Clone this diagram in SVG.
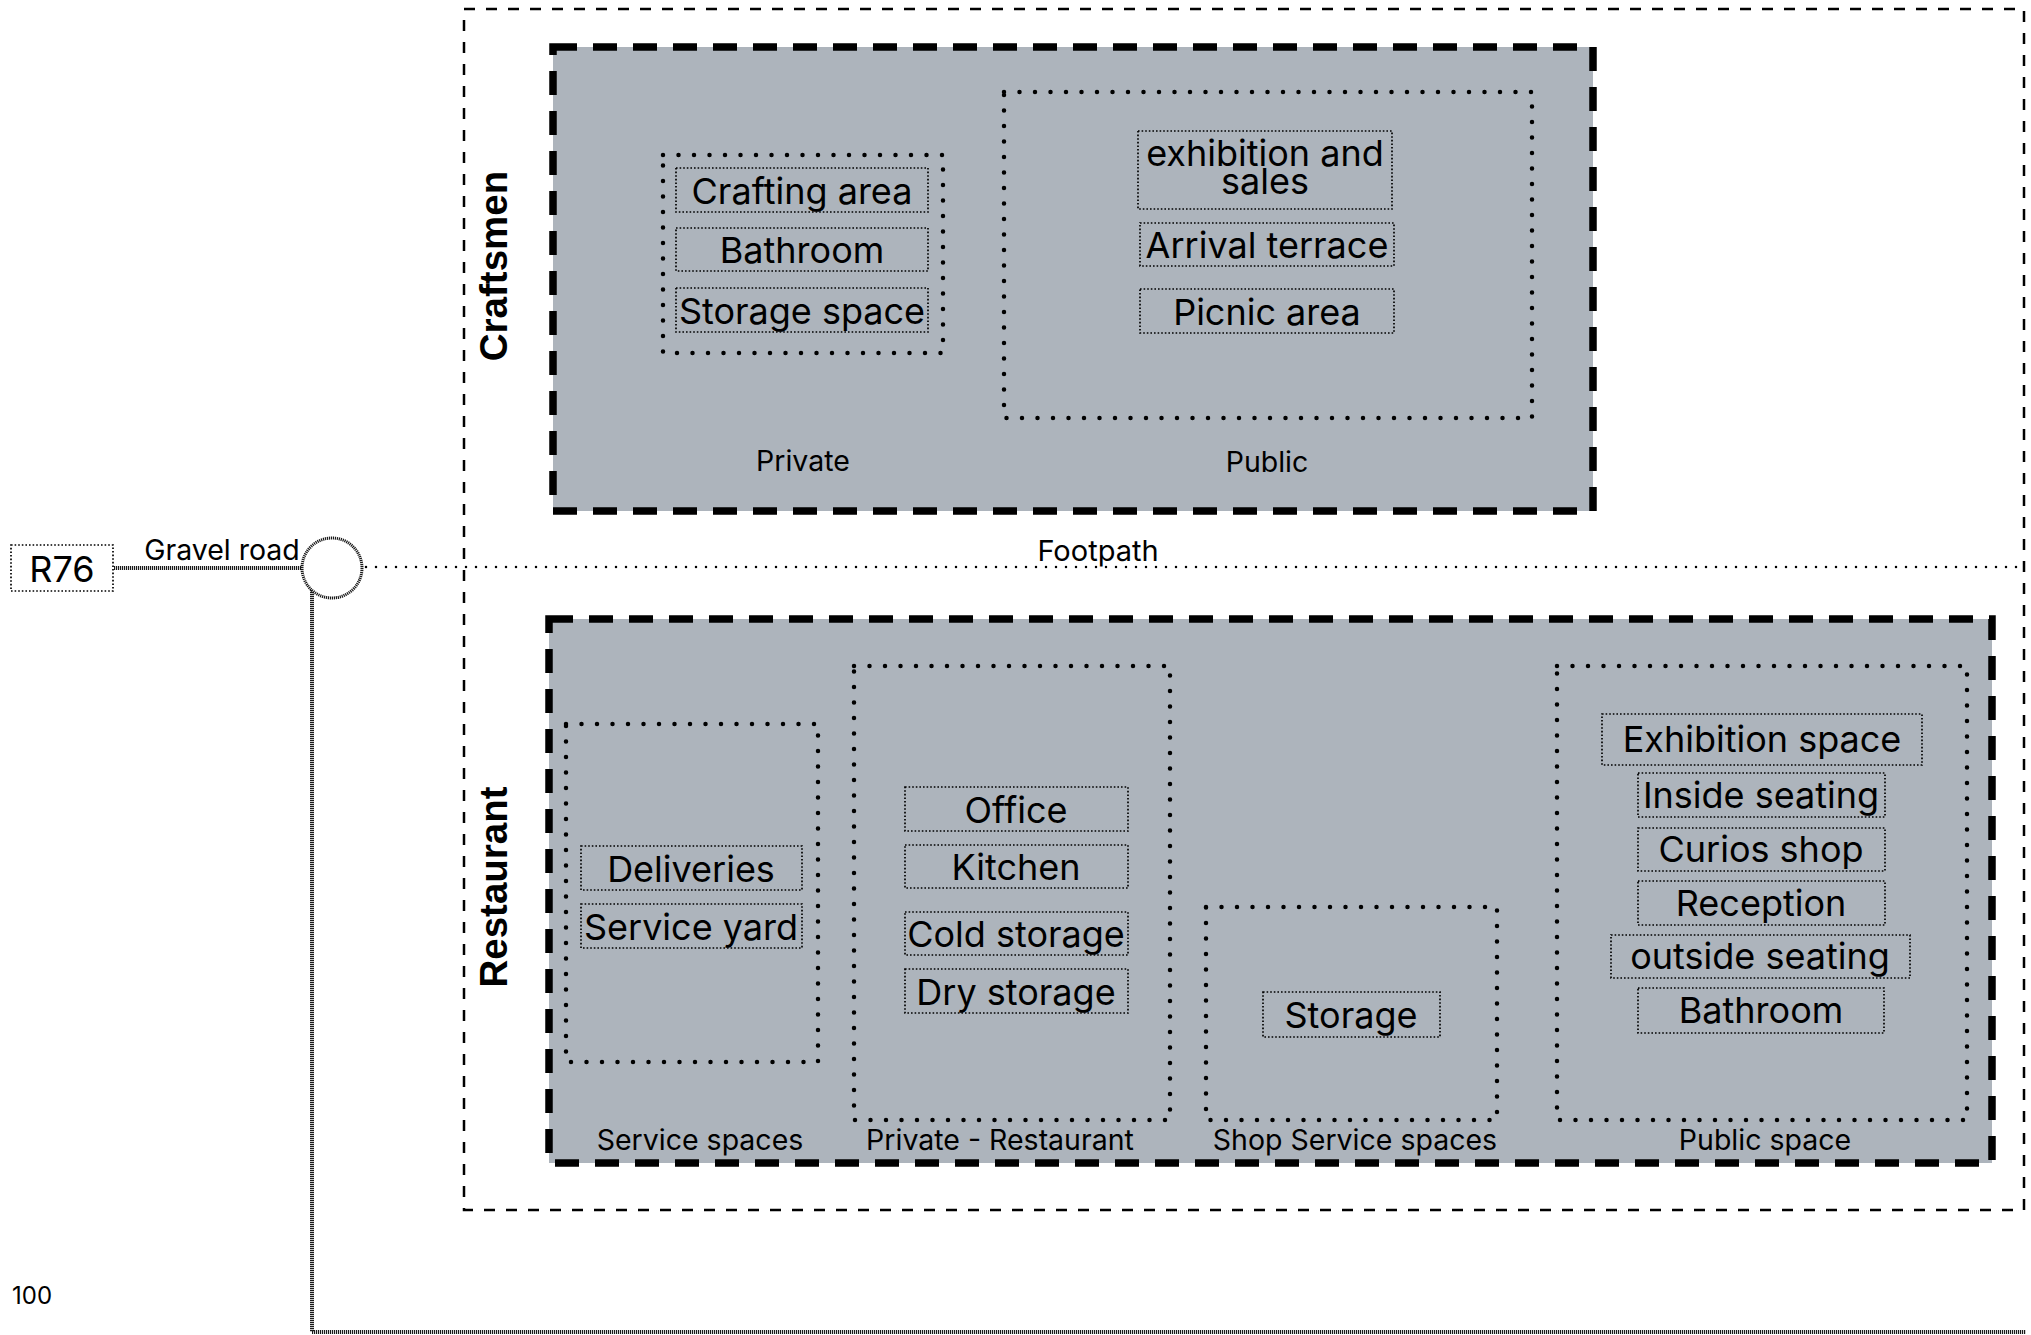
<svg xmlns="http://www.w3.org/2000/svg" width="2031" height="1335" viewBox="0 0 2031 1335">
<style>
  .t{font-family:Inter,"Noto Sans",sans-serif;fill:#000;}
  .item{font-size:36px;text-anchor:middle;}
  .lab{font-size:28.5px;text-anchor:middle;}
  .big{font-family:"Liberation Sans",Arial,sans-serif;font-weight:bold;font-size:38.5px;text-anchor:middle;fill:#000;}
  .zone{fill:#adb4bc;stroke:#000;stroke-width:7.5;stroke-dasharray:24 16;}
  .grp{fill:none;stroke:#000;stroke-width:4.5;stroke-linecap:round;stroke-dasharray:0 15.5;}
  .box{fill:none;stroke:#000;stroke-width:1.7;stroke-dasharray:1.6 2;}
  .road{fill:none;stroke:#1a1a1a;stroke-width:4;stroke-dasharray:1.2 0.8;}
  .foot{fill:none;stroke:#000;stroke-width:2.5;stroke-linecap:round;stroke-dasharray:0 10;}
</style>
<rect width="2031" height="1335" fill="#fff"/>

<g id="site">
  <rect x="464" y="9" width="1560" height="1201" fill="none" stroke="#000" stroke-width="2.5" stroke-dasharray="11 11"/>
</g>

<g id="connectors">
  <line class="road" x1="114" y1="568" x2="302" y2="568"/>
  <path class="road" d="M312 590 V1332 H2026"/>
  <line class="foot" x1="366" y1="567" x2="2025" y2="567"/>
</g>

<g id="r76">
  <rect class="box" x="11" y="545" width="102" height="46" stroke-width="2.2" stroke-dasharray="2 3"/>
  <text class="t" x="62" y="582" font-size="36" text-anchor="middle">R76</text>
</g>
<g id="gravel-road-label"><text class="t" x="222" y="560" font-size="28.5" text-anchor="middle">Gravel road</text></g>
<g id="junction"><circle cx="332" cy="568" r="30" fill="#fff" stroke="#1a1a1a" stroke-width="3" stroke-dasharray="1.2 0.8"/></g>
<g id="footpath-label"><text class="t" x="1098" y="561" font-size="29" text-anchor="middle">Footpath</text></g>
<g id="scale"><text class="t" x="12" y="1304" font-size="24">100</text></g>

<g id="craftsmen">
  <rect class="zone" x="553" y="47" width="1040" height="464"/>
  <text class="big" transform="translate(507,266) rotate(-90)">Craftsmen</text>
  <g id="craftsmen-private">
    <rect class="grp" x="663" y="155" width="280" height="198"/>
    <text class="t lab" x="803" y="471">Private</text>
    <g id="crafting-area"><rect class="box" x="676" y="168" width="252" height="44"/><text class="t item" x="802" y="204">Crafting area</text></g>
    <g id="craft-bathroom"><rect class="box" x="676" y="228" width="252" height="43"/><text class="t item" x="802" y="263">Bathroom</text></g>
    <g id="storage-space"><rect class="box" x="676" y="288" width="252" height="44"/><text class="t item" x="802" y="324">Storage space</text></g>
  </g>
  <g id="craftsmen-public">
    <rect class="grp" x="1004" y="92" width="528" height="326"/>
    <text class="t lab" x="1267" y="472">Public</text>
    <g id="exhibition-sales"><rect class="box" x="1138" y="131" width="254" height="78"/><text class="t item" x="1265" y="166">exhibition and</text><text class="t item" x="1265" y="194">sales</text></g>
    <g id="arrival-terrace"><rect class="box" x="1140" y="223" width="254" height="43"/><text class="t item" x="1267" y="258">Arrival terrace</text></g>
    <g id="picnic-area"><rect class="box" x="1140" y="289" width="254" height="44"/><text class="t item" x="1267" y="325">Picnic area</text></g>
  </g>
</g>

<g id="restaurant">
  <rect class="zone" x="549" y="619" width="1443" height="544"/>
  <text class="big" transform="translate(507,887) rotate(-90)">Restaurant</text>
  <g id="service-spaces">
    <rect class="grp" x="566" y="724" width="252" height="338"/>
    <text class="t lab" x="700" y="1150">Service spaces</text>
    <g id="deliveries"><rect class="box" x="581" y="846" width="221" height="44"/><text class="t item" x="691" y="882">Deliveries</text></g>
    <g id="service-yard"><rect class="box" x="581" y="904" width="221" height="44"/><text class="t item" x="691" y="940">Service yard</text></g>
  </g>
  <g id="private-restaurant">
    <rect class="grp" x="854" y="666" width="316" height="454"/>
    <text class="t lab" x="1000" y="1150">Private - Restaurant</text>
    <g id="office"><rect class="box" x="905" y="787" width="223" height="44"/><text class="t item" x="1016" y="823">Office</text></g>
    <g id="kitchen"><rect class="box" x="905" y="845" width="223" height="43"/><text class="t item" x="1016" y="880">Kitchen</text></g>
    <g id="cold-storage"><rect class="box" x="905" y="912" width="223" height="43"/><text class="t item" x="1016" y="947">Cold storage</text></g>
    <g id="dry-storage"><rect class="box" x="905" y="969" width="223" height="44"/><text class="t item" x="1016" y="1005">Dry storage</text></g>
  </g>
  <g id="shop-service">
    <rect class="grp" x="1206" y="907" width="291" height="213"/>
    <text class="t lab" x="1355" y="1150">Shop Service spaces</text>
    <g id="storage"><rect class="box" x="1263" y="992" width="177" height="45"/><text class="t item" x="1351" y="1028">Storage</text></g>
  </g>
  <g id="public-space">
    <rect class="grp" x="1557" y="666" width="410" height="454"/>
    <text class="t lab" x="1765" y="1150">Public space</text>
    <g id="exhibition-space"><rect class="box" x="1602" y="714" width="320" height="51"/><text class="t item" x="1762" y="752">Exhibition space</text></g>
    <g id="inside-seating"><rect class="box" x="1638" y="773" width="247" height="44"/><text class="t item" x="1761" y="808">Inside seating</text></g>
    <g id="curios-shop"><rect class="box" x="1638" y="828" width="247" height="43"/><text class="t item" x="1761" y="862">Curios shop</text></g>
    <g id="reception"><rect class="box" x="1638" y="881" width="247" height="44"/><text class="t item" x="1761" y="916">Reception</text></g>
    <g id="outside-seating"><rect class="box" x="1611" y="935" width="299" height="43"/><text class="t item" x="1760" y="969">outside seating</text></g>
    <g id="rest-bathroom"><rect class="box" x="1638" y="988" width="246" height="45"/><text class="t item" x="1761" y="1023">Bathroom</text></g>
  </g>
</g>
</svg>
